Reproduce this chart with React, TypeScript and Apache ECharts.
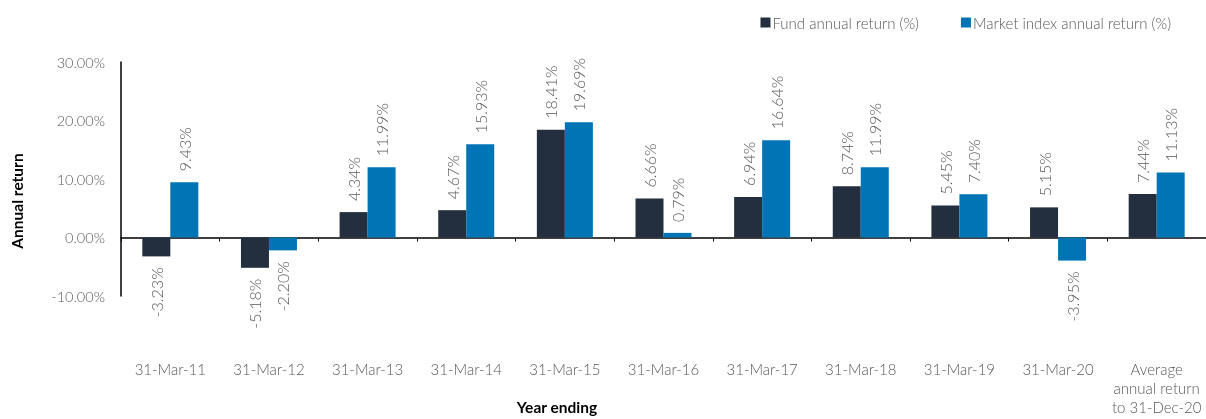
import React, { useEffect, useRef } from "react";
import * as echarts from "echarts";

const categories = [
  "31-Mar-11",
  "31-Mar-12",
  "31-Mar-13",
  "31-Mar-14",
  "31-Mar-15",
  "31-Mar-16",
  "31-Mar-17",
  "31-Mar-18",
  "31-Mar-19",
  "31-Mar-20",
  "Average\nannual return\nto 31-Dec-20",
];
const fundReturns = [-3.23, -5.18, 4.34, 4.67, 18.41, 6.66, 6.94, 8.74, 5.45, 5.15, 7.44];
const marketReturns = [9.43, -2.2, 11.99, 15.93, 19.69, 0.79, 16.64, 11.99, 7.4, -3.95, 11.13];
const seriesNames = ["Fund annual return (%)", "Market index annual return (%)"];
const yTicks = { min: -10, max: 30, interval: 10 };

const FONT = "Lato";
const GRAY = "#595959";

function makeData(vals: number[]) {
  return vals.map((v) => ({
    value: v,
    label:
      v >= 0
        ? { position: "top", align: "left", verticalAlign: "middle" }
        : { position: "bottom", align: "right", verticalAlign: "middle" },
  }));
}

export default function App() {
  const ref = useRef<HTMLDivElement>(null);
  useEffect(() => {
    if (!ref.current) return;
    const chart = echarts.init(ref.current, null, { renderer: "svg" });
    const labelCommon = {
      show: true,
      rotate: 90,
      distance: 11,
      fontFamily: FONT,
      fontWeight: 300,
      fontSize: 16,
      color: GRAY,
      formatter: (p: any) => p.value.toFixed(2) + "%",
    };
    chart.setOption({
      animation: false,
      textStyle: { fontFamily: FONT },
      legend: {
        top: 10,
        right: 30,
        itemWidth: 10,
        itemHeight: 10,
        itemGap: 42,
        icon: "rect",
        textStyle: { fontFamily: FONT, fontWeight: 300, fontSize: 15, color: GRAY, padding: [0, 0, 0, -3] },
        data: seriesNames,
      },
      grid: { left: 121, right: 0, top: 62, bottom: 123, outerBoundsMode: "none", containLabel: false },
      xAxis: {
        type: "category",
        data: categories,
        axisLine: { onZero: true, lineStyle: { color: "#000", width: 1.5 } },
        axisTick: { show: true, length: 4, lineStyle: { color: "#000" } },
        axisLabel: {
          margin: 63,
          fontFamily: FONT,
          fontWeight: 300,
          fontSize: 15,
          color: GRAY,
          lineHeight: 19,
          interval: 0,
          verticalAlign: "top",
        },
      },
      yAxis: {
        type: "value",
        min: yTicks.min,
        max: yTicks.max,
        interval: yTicks.interval,
        splitLine: { show: false },
        axisLine: { show: true, lineStyle: { color: "#000", width: 1.5 } },
        axisTick: { show: false },
        axisLabel: {
          margin: 16,
          fontFamily: FONT,
          fontWeight: 300,
          fontSize: 14.5,
          color: GRAY,
          formatter: (v: number) => v.toFixed(2) + "%",
        },
      },
      graphic: [
        {
          type: "text",
          x: 17,
          y: 201,
          rotation: Math.PI / 2,
          style: {
            text: "Annual return",
            fontFamily: FONT,
            fontWeight: "bold",
            fontSize: 15.5,
            fill: "#000",
            align: "center",
            verticalAlign: "middle",
          },
        },
        {
          type: "text",
          x: 557,
          y: 407,
          style: {
            text: "Year ending",
            fontFamily: FONT,
            fontWeight: "bold",
            fontSize: 15.5,
            fill: "#000",
            align: "center",
            verticalAlign: "middle",
          },
        },
      ],
      series: [
        {
          name: seriesNames[0],
          type: "bar",
          data: makeData(fundReturns),
          barWidth: 28,
          barGap: "0%",
          itemStyle: { color: "#232f3e" },
          label: labelCommon,
        },
        {
          name: seriesNames[1],
          type: "bar",
          data: makeData(marketReturns),
          barWidth: 28,
          barGap: "0%",
          itemStyle: { color: "#0074b5" },
          label: labelCommon,
        },
      ],
    });
    return () => chart.dispose();
  }, []);
  return (
    <div
      ref={ref}
      style={{ position: "fixed", left: 0, top: 0, width: 1206, height: 419 }}
    />
  );
}
